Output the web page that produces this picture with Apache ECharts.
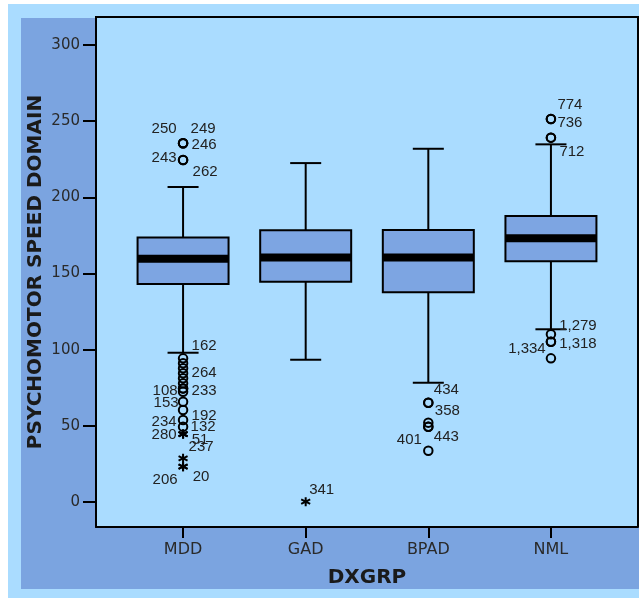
<!DOCTYPE html>
<html><head><meta charset="utf-8">
<script src="https://cdn.jsdelivr.net/npm/echarts@6/dist/echarts.min.js"></script>
<style>html,body{margin:0;padding:0;background:#fff;}#c{width:639px;height:598px;}</style>
</head><body><div id="c"></div>
<script>
// ---- data ----
const categories = ['MDD', 'GAD', 'BPAD', 'NML'];
const whiskerLow  = [98.0, 93.4, 78.3, 113.4];
const q1          = [143.1, 144.6, 137.7, 158.0];
const median      = [159.7, 160.5, 160.5, 173.1];
const q3          = [173.6, 178.4, 178.6, 187.7];
const whiskerHigh = [206.8, 222.5, 231.9, 234.8];
const yTicks = [0, 50, 100, 150, 200, 250, 300];

// outliers (circles): group index, value, case label
const outlierGroup = [0,0,0,0,0, 0,0,0,0,0,0,0,0,0,0,0,0,0, 2,2,2,2,2,2, 3,3,3,3,3,3,3,3];
const outlierValue = [235.5,235.5,235.5,224.5,224.5,
  94.3,91.1,87.8,84.5,81.2,77.9,74.6,74.6,72.4,65.8,60.4,53.8,49.4,
  65.2,65.2,52.1,49.4,49.4,33.7,
  251.4,251.4,239.2,239.2,110.1,105.2,105.2,94.3];
const outlierCase = ['250','249','246','243','262',
  '162','','','264','','','108','233','','153','192','234','132',
  '434','358','','443','401','',
  '774','736','712','','1,279','1,318','1,334',''];

// extremes (asterisks)
const extremeGroup = [0,0,0,0,0,0,1];
const extremeValue = [44.6,44.6,44.6,28.7,23.2,23.2,0.2];
const extremeCase  = ['280','51','237','','206','20','341'];

// ---- label placement (style) ----
const outlierOffset = [[-19,-14],[20,-14],[21,2],[-19,-2],[22,12],
  [21,-13],[0,0],[0,0],[21,0],[0,0],[0,0],[-18,2],[21,2],[0,0],[-17,1],[21,6],[-19,2],[20,0],
  [18,-13],[19,8],[0,0],[18,10],[-19,13],[0,0],
  [19,-14],[19,4],[21,14],[0,0],[27,-8],[27,2],[-24,7],[0,0]];
const extremeOffset = [[-19,1],[17,6],[18,13],[0,0],[-18,13],[18,10],[16,-12]];

const labelFont = {fontFamily:'Liberation Sans', fontSize:15, color:'#222'};
function pts(groups, values, cases, offsets){
  return values.map((v,i)=>({
    value:[groups[i]+1, v],
    label: cases[i] ? Object.assign({show:true, formatter:cases[i], position:'inside',
      offset:offsets[i], align:'center', verticalAlign:'middle'}, labelFont) : {show:false}
  }));
}

const boxData = categories.map((c,i)=>[i+1, whiskerLow[i], q1[i], median[i], q3[i], whiskerHigh[i]]);

const chart = echarts.init(document.getElementById('c'), null, {renderer:'canvas'});
const tickFont = {fontFamily:'DejaVu Sans', color:'#2a2a2a'};
chart.setOption({
  backgroundColor:'#aadcff',
  animation:false,
  graphic:[
    {type:'rect', shape:{x:0,y:0,width:8,height:598}, style:{fill:'#ffffff'}, silent:true},
    {type:'rect', shape:{x:0,y:0,width:639,height:4}, style:{fill:'#ffffff'}, silent:true},
    {type:'rect', shape:{x:21,y:18,width:75,height:571}, style:{fill:'#7ba4e0'}, silent:true},
    {type:'rect', shape:{x:96,y:527,width:543,height:62}, style:{fill:'#7ba4e0'}, silent:true}
  ],
  grid:{left:96, right:1, top:17, bottom:71, show:true, backgroundColor:'#aadcff',
    borderColor:'#000', borderWidth:2},
  xAxis:{
    type:'value', min:0.29, max:4.71,
    name:'DXGRP', nameLocation:'middle', nameGap:41, nameMoveOverlap:false,
    nameTextStyle:{fontFamily:'DejaVu Sans', fontWeight:'bold', fontSize:20, color:'#1a1a1a'},
    axisLine:{show:true, onZero:false, lineStyle:{color:'#000', width:2}},
    axisTick:{show:true, customValues:[1,2,3,4], length:11, lineStyle:{color:'#000', width:2}},
    axisLabel:Object.assign({customValues:[1,2,3,4], margin:15, fontSize:16,
      formatter:v=>categories[Math.round(v)-1] || ''}, tickFont),
    splitLine:{show:false}
  },
  yAxis:{
    type:'value', min:-16.4, max:318.4,
    name:'PSYCHOMOTOR SPEED DOMAIN', nameLocation:'middle', nameGap:50, nameRotate:90,
    nameMoveOverlap:false,
    nameTextStyle:{fontFamily:'DejaVu Sans', fontWeight:'bold', fontSize:20, color:'#1a1a1a'},
    axisLine:{show:true, onZero:false, lineStyle:{color:'#000', width:2}},
    axisTick:{show:true, customValues:yTicks, length:13, lineStyle:{color:'#000', width:2}},
    axisLabel:Object.assign({customValues:yTicks, margin:16, fontSize:15}, tickFont),
    splitLine:{show:false}
  },
  series:[
    {
      type:'custom',
      data:boxData,
      encode:{x:0, y:[1,2,3,4,5]},
      z:2,
      renderItem:function(params, api){
        const x = api.value(0);
        const lo = api.coord([x, api.value(1)]);
        const b1 = api.coord([x, api.value(2)]);
        const md = api.coord([x, api.value(3)]);
        const b3 = api.coord([x, api.value(4)]);
        const hi = api.coord([x, api.value(5)]);
        const unit = api.size([1,0])[0];
        const bw = unit*0.742, cw = unit*0.253, cx = lo[0];
        const ls = {stroke:'#000', lineWidth:2};
        return {type:'group', children:[
          {type:'line', shape:{x1:cx,y1:hi[1],x2:cx,y2:b3[1]}, style:ls},
          {type:'line', shape:{x1:cx,y1:b1[1],x2:cx,y2:lo[1]}, style:ls},
          {type:'line', shape:{x1:cx-cw/2,y1:hi[1],x2:cx+cw/2,y2:hi[1]}, style:ls},
          {type:'line', shape:{x1:cx-cw/2,y1:lo[1],x2:cx+cw/2,y2:lo[1]}, style:ls},
          {type:'rect', shape:{x:cx-bw/2,y:b3[1],width:bw,height:b1[1]-b3[1]},
            style:{fill:'#7da5e2', stroke:'#000', lineWidth:2}},
          {type:'rect', shape:{x:cx-bw/2,y:md[1]-4,width:bw,height:8}, style:{fill:'#000'}}
        ]};
      }
    },
    {
      type:'scatter', z:3,
      symbol:'circle', symbolSize:8.5,
      itemStyle:{color:'rgba(0,0,0,0)', borderColor:'#000', borderWidth:2, opacity:1},
      data:pts(outlierGroup, outlierValue, outlierCase, outlierOffset)
    },
    {
      type:'scatter', z:3,
      symbol:'path://M5,0 L5,10 M0.67,2.5 L9.33,7.5 M0.67,7.5 L9.33,2.5', symbolSize:9,
      itemStyle:{color:'rgba(0,0,0,0)', borderColor:'#000', borderWidth:2, opacity:1},
      data:pts(extremeGroup, extremeValue, extremeCase, extremeOffset)
    }
  ]
});
</script></body></html>
